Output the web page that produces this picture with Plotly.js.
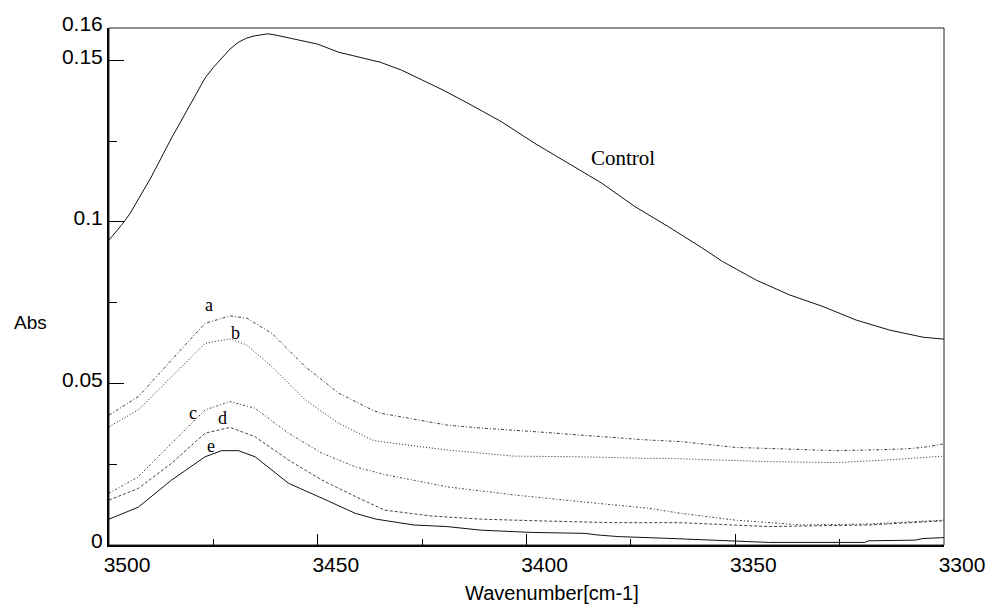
<!DOCTYPE html>
<html>
<head>
<meta charset="utf-8">
<script src="https://cdn.plot.ly/plotly-3.0.1.min.js"></script>
<style>html,body{margin:0;padding:0;background:#fff;}#chart{width:989px;height:607px;}</style>
</head>
<body>
<div id="chart"></div>
<script>
// Control
const controlX = [3500,3497,3495,3490,3485,3480,3477,3475,3473,3471,3469,3467,3465,3462,3460,3455,3450,3445,3440,3435,3430,3420,3414,3406,3398,3390,3382,3374,3366,3358,3353,3345,3337,3329,3321,3313,3305,3300];
const controlY = [0.0944,0.099,0.1025,0.1136,0.126,0.1377,0.1445,0.1478,0.1508,0.1535,0.1556,0.1569,0.1576,0.1582,0.1578,0.1563,0.155,0.1525,0.1509,0.1494,0.147,0.1408,0.1367,0.131,0.1243,0.1181,0.112,0.1047,0.0985,0.092,0.0877,0.082,0.0774,0.0738,0.0696,0.0665,0.0643,0.0637];
// a
const aX = [3500,3493,3485,3477,3471,3467,3461,3453,3445,3437,3435,3427,3419,3411,3403,3395,3387,3379,3371,3363,3350,3340,3326,3318,3310,3305,3300];
const aY = [0.0402,0.0459,0.0573,0.0686,0.0709,0.0702,0.0655,0.0552,0.047,0.0418,0.0408,0.039,0.0371,0.0362,0.0356,0.0348,0.034,0.0332,0.0325,0.032,0.0302,0.0298,0.0292,0.0294,0.0297,0.0302,0.0313];
// b
const bX = [3500,3493,3485,3477,3471,3467,3461,3453,3445,3437,3435,3419,3403,3387,3371,3366,3342,3326,3315,3300];
const bY = [0.0366,0.0418,0.0521,0.0624,0.0638,0.0619,0.0552,0.0449,0.0377,0.0325,0.032,0.0294,0.0275,0.0273,0.0268,0.0268,0.0258,0.0255,0.0262,0.0275];
// c
const cX = [3500,3493,3485,3477,3471,3465,3457,3449,3441,3434,3419,3403,3387,3371,3363,3350,3334,3318,3300];
const cY = [0.016,0.0211,0.0315,0.0418,0.0444,0.0423,0.0346,0.0284,0.0242,0.0218,0.018,0.0155,0.0134,0.0114,0.0098,0.0077,0.0062,0.0065,0.0077];
// d
const dX = [3500,3493,3485,3477,3471,3465,3457,3449,3441,3434,3423,3411,3395,3379,3363,3342,3318,3300];
const dY = [0.0139,0.0175,0.0253,0.0346,0.0364,0.0335,0.0263,0.0201,0.015,0.0108,0.009,0.008,0.0074,0.0069,0.0069,0.0057,0.0062,0.0075];
// e
const eX = [3500,3493,3485,3477,3473,3469,3465,3457,3449,3441,3436,3427,3419,3411,3399,3386,3383,3378,3367,3354,3342,3319,3318,3307,3305,3300];
const eY = [0.008,0.0117,0.0201,0.0273,0.0292,0.0292,0.0273,0.0191,0.0145,0.0098,0.008,0.0062,0.0057,0.0046,0.0039,0.0036,0.0031,0.0026,0.0021,0.0015,0.0008,0.0008,0.0013,0.0015,0.002,0.0023];

// labels
const labelText = ['Control','a','b','c','d','e'];
const labelX = [3377,3476,3469.6,3480,3472.9,3475.5];
const labelY = [0.1198,0.0743,0.0657,0.041,0.0394,0.0307];

const xMajor = [3500,3450,3400,3350,3300];
const xMinor = [3475,3425,3375,3325];
const yMajor = [0,0.05,0.1,0.15,0.16];
const yMajorText = ['0','0.05','0.1','0.15','0.16'];
const yMinor = [0.025,0.075,0.125];

function tr(x,y,dash,color){
  return {x:x,y:y,type:'scatter',mode:'lines',line:{color:color,width:1,dash:dash},hoverinfo:'skip',showlegend:false};
}
const traces = [
  tr(controlX,controlY,'solid','#111'),
  tr(aX,aY,'3px,2px,1px,2px','#444'),
  tr(bX,bY,'1px,2px','#222'),
  tr(cX,cY,'2px,2px,1px,2px','#444'),
  tr(dX,dY,'3px,2px','#444'),
  tr(eX,eY,'solid','#111')
];

const annotations = labelText.map((t,i)=>({
  x:labelX[i], y:labelY[i], xref:'x', yref:'y', text:t, showarrow:false,
  font:{family:'Liberation Serif, Times New Roman, serif', size: i===0?21:18, color:'#000'},
  xanchor:'center', yanchor:'middle'
}));
annotations.push({x:(30-109)/835, y:(545-322)/517, xref:'paper', yref:'paper', text:'Abs', showarrow:false,
  font:{family:'Liberation Sans, Arial, sans-serif', size:19, color:'#000'}, xanchor:'center', yanchor:'middle'});
annotations.push({x:(552-109)/835, y:-(593-545)/517, xref:'paper', yref:'paper', text:'Wavenumber[cm-1]', showarrow:false,
  font:{family:'Liberation Sans, Arial, sans-serif', size:20, color:'#000'}, xanchor:'center', yanchor:'middle'});

const layout = {
  width:989, height:607,
  margin:{l:109, r:45, t:28, b:62},
  paper_bgcolor:'#fff', plot_bgcolor:'#fff',
  font:{family:'Liberation Sans, Arial, sans-serif', size:18, color:'#000'},
  xaxis:{range:[3500,3300], tickmode:'array', tickvals:xMajor, ticks:'inside', ticklen:11, tickwidth:1, tickcolor:'#000',
    showline:true, linewidth:2, linecolor:'#000', mirror:false, showgrid:false, zeroline:false,
    tickfont:{size:21}, ticklabelshift:-18,
    minor:{tickmode:'array', tickvals:xMinor, ticks:'inside', ticklen:6, tickwidth:1, tickcolor:'#000', showgrid:false}},
  yaxis:{range:[0,0.16], tickmode:'array', tickvals:yMajor, ticktext:yMajorText, ticks:'inside', ticklen:15, tickwidth:1, tickcolor:'#000',
    showline:true, linewidth:2, linecolor:'#000', mirror:false, showgrid:false, zeroline:false,
    tickfont:{size:21}, ticklabelshift:-4,
    minor:{tickmode:'array', tickvals:yMinor, ticks:'inside', ticklen:8, tickwidth:1, tickcolor:'#000', showgrid:false}},
  shapes:[{type:'rect', xref:'paper', yref:'paper', x0:0, x1:1, y0:0, y1:1, line:{color:'#222', width:1}}],
  annotations:annotations
};
Plotly.newPlot('chart', traces, layout, {staticPlot:true, displayModeBar:false});
</script>
</body>
</html>
